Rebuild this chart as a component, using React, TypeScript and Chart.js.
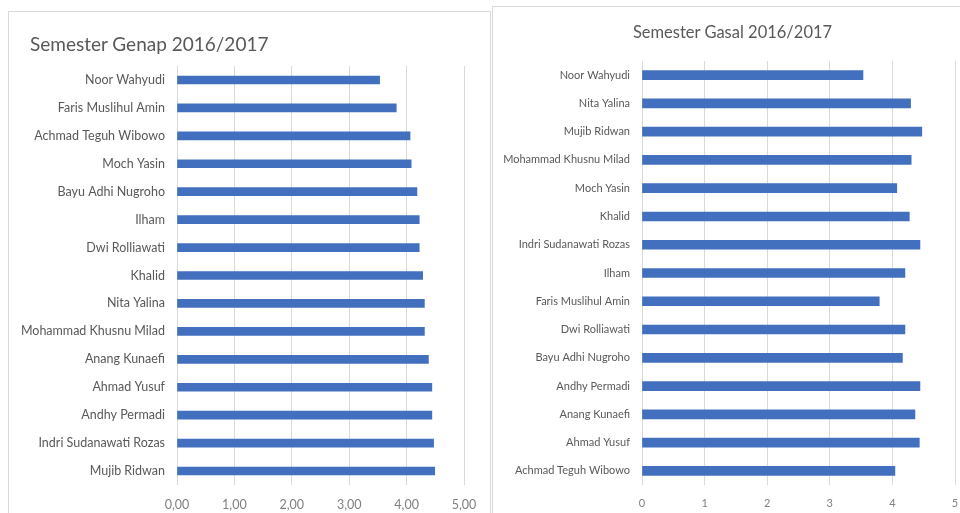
import React, { useEffect, useRef } from "react";
import { Chart, registerables } from "chart.js";

Chart.register(...registerables);

const genapTitle = "Semester Genap 2016/2017";
const genapNames = [
  "Noor Wahyudi",
  "Faris Muslihul Amin",
  "Achmad Teguh Wibowo",
  "Moch Yasin",
  "Bayu Adhi Nugroho",
  "Ilham",
  "Dwi Rolliawati",
  "Khalid",
  "Nita Yalina",
  "Mohammad Khusnu Milad",
  "Anang Kunaefi",
  "Ahmad Yusuf",
  "Andhy Permadi",
  "Indri Sudanawati Rozas",
  "Mujib Ridwan",
];
const genapValues = [3.53, 3.82, 4.06, 4.08, 4.18, 4.22, 4.22, 4.28, 4.31, 4.31, 4.38, 4.44, 4.44, 4.47, 4.49];

const gasalTitle = "Semester Gasal 2016/2017";
const gasalNames = [
  "Noor Wahyudi",
  "Nita Yalina",
  "Mujib Ridwan",
  "Mohammad Khusnu Milad",
  "Moch Yasin",
  "Khalid",
  "Indri Sudanawati Rozas",
  "Ilham",
  "Faris Muslihul Amin",
  "Dwi Rolliawati",
  "Bayu Adhi Nugroho",
  "Andhy Permadi",
  "Anang Kunaefi",
  "Ahmad Yusuf",
  "Achmad Teguh Wibowo",
];
const gasalValues = [3.53, 4.29, 4.47, 4.3, 4.07, 4.27, 4.44, 4.2, 3.79, 4.2, 4.16, 4.44, 4.36, 4.43, 4.04];

const axisMin = 0;
const axisMax = 5;

const BAR = "#4270BF";
const GRID = "#d9d9d9";
const TEXT = "#595959";
const FONT = "Lato, 'Open Sans', sans-serif";

type Cfg = {
  names: string[];
  values: number[];
  decimals: boolean;
  padTop: number;
  padRight: number;
  yWidth: number;
  xHeight: number;
  labelSize: number;
  barThickness: number;
  width: number;
  height: number;
};

function BarCanvas({ cfg, style }: { cfg: Cfg; style: React.CSSProperties }) {
  const ref = useRef<HTMLCanvasElement | null>(null);
  useEffect(() => {
    if (!ref.current) return;
    const chart = new Chart(ref.current, {
      type: "bar",
      data: {
        labels: cfg.names,
        datasets: [
          {
            data: cfg.values,
            backgroundColor: BAR,
            borderWidth: 0,
            barThickness: cfg.barThickness,
          },
        ],
      },
      options: {
        indexAxis: "y",
        animation: false,
        responsive: false,
        maintainAspectRatio: false,
        layout: { padding: { left: 0, right: cfg.padRight, top: cfg.padTop, bottom: 0 } },
        plugins: {
          legend: { display: false },
          tooltip: { enabled: false },
          title: { display: false },
        },
        scales: {
          x: {
            min: axisMin,
            max: axisMax,
            ticks: {
              stepSize: 1,
              color: "#7f7f7f",
              padding: 12,
              font: { family: FONT, size: cfg.labelSize },
              callback: (v: any) =>
                cfg.decimals ? Number(v).toFixed(2).replace(".", ",") : String(v),
            },
            grid: { color: GRID, lineWidth: 1, drawTicks: false },
            border: { display: false },
            afterFit: (s: any) => {
              s.height = cfg.xHeight;
            },
          },
          y: {
            ticks: {
              color: TEXT,
              padding: 12,
              font: { family: FONT, size: cfg.labelSize },
            },
            grid: { display: false, drawTicks: false },
            border: { display: false },
            afterFit: (s: any) => {
              s.width = cfg.yWidth;
            },
          },
        },
      },
    });
    return () => chart.destroy();
  }, []);
  return (
    <canvas
      ref={ref}
      width={cfg.width}
      height={cfg.height}
      style={{ position: "absolute", width: cfg.width, height: cfg.height, ...style }}
    />
  );
}

const leftCfg: Cfg = {
  names: genapNames,
  values: genapValues,
  decimals: true,
  padTop: 54,
  padRight: 26,
  yWidth: 168,
  xHeight: 28,
  labelSize: 12.5,
  barThickness: 8,
  width: 481,
  height: 501,
};

const rightCfg: Cfg = {
  names: gasalNames,
  values: gasalValues,
  decimals: false,
  padTop: 54,
  padRight: 18,
  yWidth: 149,
  xHeight: 28,
  labelSize: 11,
  barThickness: 9,
  width: 480,
  height: 506,
};

export default function App() {
  return (
    <div style={{ position: "fixed", left: 0, top: 0, width: 960, height: 513, background: "#fff", overflow: "hidden" }}>
      <div style={{ position: "absolute", left: 8, top: 11, width: 481, height: 520, border: "1px solid #d9d9d9" }} />
      <div style={{ position: "absolute", left: 492, top: 6, width: 480, height: 520, border: "1px solid #d9d9d9" }} />
      <BarCanvas cfg={leftCfg} style={{ left: 9, top: 12 }} />
      <BarCanvas cfg={rightCfg} style={{ left: 493, top: 7 }} />
      <div
        style={{
          position: "absolute",
          left: 30,
          top: 32,
          fontFamily: FONT,
          fontSize: 19,
          lineHeight: "23px",
          color: TEXT,
          whiteSpace: "nowrap",
        }}
      >
        {genapTitle}
      </div>
      <div
        style={{
          position: "absolute",
          left: 493,
          top: 22,
          width: 479,
          textAlign: "center",
          fontFamily: FONT,
          fontSize: 16.5,
          lineHeight: "20px",
          color: TEXT,
          whiteSpace: "nowrap",
        }}
      >
        {gasalTitle}
      </div>
    </div>
  );
}
